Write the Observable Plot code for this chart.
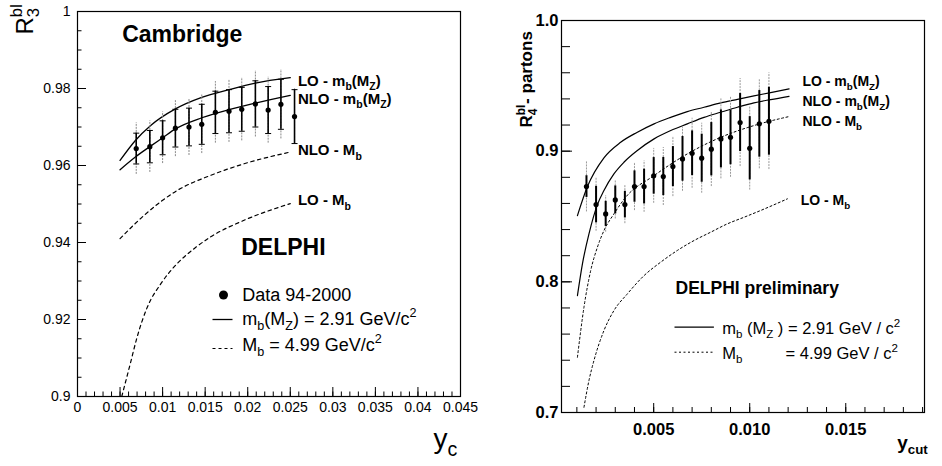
<!DOCTYPE html>
<html><head><meta charset="utf-8">
<script src="https://cdn.jsdelivr.net/npm/d3@7"></script>
<script src="https://cdn.jsdelivr.net/npm/@observablehq/plot@0.6"></script>
<style>
body{margin:0;background:#fff;}
#wrap{display:flex;width:942px;height:466px;}
#wrap svg{overflow:visible;flex:none;}
</style></head><body><div id="wrap"></div>
<script>
// ================= LEFT PANEL: Cambridge R3 =================
const L_dataX   = [0.0069,0.0085,0.0100,0.0115,0.0131,0.0146,0.0162,0.0178,0.0193,0.0209,0.0224,0.0239,0.0255];
const L_dataY   = [0.9644,0.9649,0.9672,0.9697,0.9700,0.9707,0.9738,0.9741,0.9746,0.9760,0.9744,0.9759,0.9727];
const L_statErr = [0.0040,0.0042,0.0044,0.0049,0.0049,0.0052,0.0055,0.0056,0.0057,0.0060,0.0061,0.0065,0.0070];
const L_totErr  = [0.0067,0.0067,0.0067,0.0074,0.0074,0.0076,0.0080,0.0081,0.0082,0.0086,0.0086,0.0090,0.0072];

const L_LOmz_x  = [0.0050,0.0068,0.0086,0.0115,0.0146,0.0178,0.0209,0.0250];
const L_LOmz_y  = [0.9613,0.9665,0.9704,0.9747,0.9777,0.9797,0.9814,0.9828];
const L_NLOmz_x = [0.0050,0.0068,0.0085,0.0100,0.0115,0.0146,0.0178,0.0209,0.0250];
const L_NLOmz_y = [0.9589,0.9622,0.9649,0.9672,0.9695,0.9724,0.9745,0.9762,0.9782];
const L_NLOMb_x = [0.0050,0.0078,0.0117,0.0156,0.0195,0.0250];
const L_NLOMb_y = [0.9410,0.9470,0.9535,0.9574,0.9604,0.9635];
const L_LOMb_x  = [0.0052,0.0062,0.0070,0.0082,0.0098,0.0117,0.0137,0.0156,0.0195,0.0250];
const L_LOMb_y  = [0.9000,0.9085,0.9154,0.9232,0.9293,0.9345,0.9384,0.9414,0.9457,0.9501];

const L_xTicks = [0,0.005,0.01,0.015,0.02,0.025,0.03,0.035,0.04,0.045];
const L_yTicks = [0.9,0.92,0.94,0.96,0.98,1];

// ================= RIGHT PANEL: R4 partons =================
const R_dataX   = [0.0015,0.0020,0.0025,0.0030,0.0035,0.0040,0.0045,0.0050,0.0055,0.0060,0.0065,0.0070,0.0075,0.0080,0.0085,0.0090,0.0095,0.0100,0.0105,0.0110];
const R_dataY   = [0.8729,0.8591,0.8520,0.8627,0.8591,0.8729,0.8729,0.8811,0.8806,0.8882,0.8941,0.8984,0.8946,0.9015,0.9094,0.9106,0.9219,0.9022,0.9209,0.9229];
const R_statErr = [0.0083,0.0140,0.0096,0.0107,0.0102,0.0120,0.0133,0.0140,0.0146,0.0153,0.0171,0.0171,0.0184,0.0204,0.0222,0.0210,0.0222,0.0242,0.0255,0.0260];
const R_totErr  = [0.0194,0.0204,0.0140,0.0146,0.0146,0.0184,0.0197,0.0210,0.0222,0.0230,0.0248,0.0268,0.0268,0.0286,0.0306,0.0306,0.0337,0.0320,0.0344,0.0370];

const R_LOmz_x  = [0.00103,0.00155,0.00241,0.00328,0.00415,0.00502,0.00589,0.00675,0.00762,0.00849,0.00936,0.01022,0.01109,0.01205];
const R_LOmz_y  = [0.8507,0.8729,0.8949,0.9068,0.9145,0.9209,0.9259,0.9303,0.9336,0.9370,0.9397,0.9423,0.9448,0.9477];
const R_NLOmz_x = [0.00103,0.00129,0.00163,0.00207,0.00241,0.00293,0.00345,0.00415,0.00502,0.00589,0.00675,0.00762,0.00849,0.00936,0.01022,0.01109,0.01205];
const R_NLOmz_y = [0.7895,0.8138,0.8367,0.8591,0.8699,0.8826,0.8915,0.9005,0.9094,0.9158,0.9209,0.9259,0.9298,0.9336,0.9370,0.9395,0.9420];
const R_NLOMb_x = [0.00103,0.00137,0.00172,0.00207,0.00241,0.00293,0.00354,0.00502,0.00675,0.00849,0.01022,0.01205];
const R_NLOMb_y = [0.7423,0.7806,0.8086,0.8265,0.8392,0.8520,0.8647,0.8813,0.8979,0.9106,0.9196,0.9265];
const R_LOMb_x  = [0.00137,0.00163,0.00189,0.00241,0.00293,0.00363,0.00450,0.00536,0.00623,0.00710,0.00797,0.00884,0.00970,0.01057,0.01196];
const R_LOMb_y  = [0.7040,0.7245,0.7398,0.7627,0.7780,0.7908,0.8048,0.8150,0.8240,0.8316,0.8380,0.8444,0.8494,0.8546,0.8635];

const R_xTicks = [0.005,0.010,0.015];
const R_yTicks = [0.7,0.8,0.9,1.0];

// ---------------- helpers ----------------
const FONT = "'Liberation Sans', Arial, Helvetica, sans-serif";
const hline = {draw(ctx, size) { const w = Math.sqrt(size / Math.PI); ctx.moveTo(-w, 0); ctx.lineTo(w, 0); }};
const pts = (xs, ys) => xs.map((x, i) => ({x, y: ys[i]}));
const last = (xs, ys) => [{x: xs[xs.length - 1], y: ys[ys.length - 1]}];
const minor = (a, b, s) => d3.range(Math.round(a / s), Math.round(b / s) + 1).map(k => +(k * s).toFixed(6));
const trim = d => String(+d.toFixed(4));

// ---------------- left plot ----------------
const LW = 470, LH = 466, Lm = {l: 77, r: 10, t: 11, b: 70};
const LFW = LW - Lm.l - Lm.r, LFH = LH - Lm.t - Lm.b;
const Ldata = L_dataX.map((x, i) => ({x, y: L_dataY[i], s: L_statErr[i], t: L_totErr[i]}));
const Llab = (xs, ys, text, dy) => Plot.text(last(xs, ys), {x: "x", y: "y", text: () => text, dx: 7.6, dy, textAnchor: "start", lineAnchor: "middle", fontSize: 15, fontWeight: "bold"});
const Lnote = (text, dx, dy, o = {}) => Plot.text([text], {text: d => d, frameAnchor: "top-left", dx, dy, textAnchor: "start", lineAnchor: "bottom", ...o});

const left = Plot.plot({
  width: LW, height: LH,
  marginLeft: Lm.l, marginRight: Lm.r, marginTop: Lm.t, marginBottom: Lm.b,
  style: {fontFamily: FONT, background: "transparent", overflow: "visible"},
  x: {domain: [0, 0.045], axis: null},
  y: {domain: [0.9, 1], axis: null},
  marks: [
    Plot.tickX(minor(0, 0.045, 0.001), {x: d => d, insetTop: LFH - 4.5, stroke: "#000"}),
    Plot.tickX(L_xTicks, {x: d => d, insetTop: LFH - 9, stroke: "#000"}),
    Plot.tickY(minor(0.9, 1, 0.005), {y: d => d, insetRight: LFW - 4.5, stroke: "#000"}),
    Plot.tickY(L_yTicks, {y: d => d, insetRight: LFW - 9, stroke: "#000"}),
    Plot.frame({stroke: "#000", strokeWidth: 1.2}),
    Plot.axisX(L_xTicks, {tickSize: 0, tickPadding: 6, fontSize: 14, tickFormat: trim, label: null}),
    Plot.axisY(L_yTicks, {tickSize: 0, tickPadding: 7, fontSize: 14, tickFormat: trim, label: null}),
    // curves
    Plot.line(pts(L_LOmz_x, L_LOmz_y), {x: "x", y: "y", curve: "monotone-x", stroke: "#000", strokeWidth: 1.3}),
    Plot.line(pts(L_NLOmz_x, L_NLOmz_y), {x: "x", y: "y", curve: "monotone-x", stroke: "#000", strokeWidth: 1.3}),
    Plot.line(pts(L_NLOMb_x, L_NLOMb_y), {x: "x", y: "y", curve: "monotone-x", stroke: "#000", strokeWidth: 1.2, strokeDasharray: "3.5,3.5"}),
    Plot.line(pts(L_LOMb_x, L_LOMb_y), {x: "x", y: "y", curve: "monotone-x", stroke: "#000", strokeWidth: 1.2, strokeDasharray: "3.5,3.5"}),
    // data with error bars
    Plot.ruleX(Ldata, {x: "x", y1: d => d.y - d.t, y2: d => d.y + d.t, stroke: "#888", strokeWidth: 1, strokeDasharray: "2,1"}),
    Plot.ruleX(Ldata, {x: "x", y1: d => d.y - d.s, y2: d => d.y + d.s, stroke: "#000", strokeWidth: 1.6}),
    Plot.dot(Ldata, {x: "x", y: d => d.y + d.s, symbol: hline, r: 3, stroke: "#000", fill: "none", strokeWidth: 1}),
    Plot.dot(Ldata, {x: "x", y: d => d.y - d.s, symbol: hline, r: 3, stroke: "#000", fill: "none", strokeWidth: 1}),
    Plot.dot(Ldata, {x: "x", y: "y", r: 2.6, fill: "#000"}),
    // curve labels
    Llab(L_LOmz_x, L_LOmz_y, "LO - m_{b}(M_{Z})", 3),
    Llab(L_NLOmz_x, L_NLOmz_y, "NLO - m_{b}(M_{Z})", 4),
    Llab(L_NLOMb_x, L_NLOMb_y, "NLO - M_{b}", -1.5),
    Llab(L_LOMb_x, L_LOMb_y, "LO - M_{b}", -3),
    // titles
    Lnote("Cambridge", 44.7, 30, {fontSize: 23, fontWeight: "bold"}),
    Lnote("DELPHI", 163.7, 243, {fontSize: 23, fontWeight: "bold"}),
    // legend
    Plot.dot([0], {frameAnchor: "top-left", dx: 146, dy: 283.5, r: 4.5, fill: "#000"}),
    Plot.dot([0], {frameAnchor: "top-left", dx: 145, dy: 308, r: 10, symbol: hline, stroke: "#000", fill: "none", strokeWidth: 1.3}),
    Plot.dot([0], {frameAnchor: "top-left", dx: 145, dy: 337, r: 10, symbol: hline, stroke: "#000", fill: "none", strokeWidth: 1.2, strokeDasharray: "3,3"}),
    Lnote("Data 94-2000", 164.7, 289, {fontSize: 18}),
    Lnote("m_{b}(M_{Z}) = 2.91 GeV/c^{2}", 164.7, 313, {fontSize: 18}),
    Lnote("M_{b} = 4.99 GeV/c^{2}", 164.7, 339, {fontSize: 18}),
    // axis titles
    Lnote("R^{bl}~{3}", -45, 23, {fontSize: 24, rotate: -90}),
    Lnote("y_{c}", 356, 436.6, {fontSize: 28})
  ]
});

// ---------------- right plot ----------------
const RW = 472, RH = 466, Rm = {l: 91, r: 18, t: 20, b: 54};
const RFW = RW - Rm.l - Rm.r, RFH = RH - Rm.t - Rm.b;
const Rdata = R_dataX.map((x, i) => ({x, y: R_dataY[i], s: R_statErr[i], t: R_totErr[i]}));
const Rlab = (xs, ys, text, dy) => Plot.text(last(xs, ys), {x: "x", y: "y", text: () => text, dx: 13.3, dy, textAnchor: "start", lineAnchor: "middle", fontSize: 14, fontWeight: "bold"});

const right = Plot.plot({
  width: RW, height: RH,
  marginLeft: Rm.l, marginRight: Rm.r, marginTop: Rm.t, marginBottom: Rm.b,
  style: {fontFamily: FONT, background: "transparent", overflow: "visible"},
  x: {domain: [0.0002, 0.0191], axis: null},
  y: {domain: [0.7, 1.0], axis: null},
  marks: [
    Plot.tickX(minor(0.001, 0.019, 0.001), {x: d => d, insetTop: RFH - 5, stroke: "#000"}),
    Plot.tickX(R_xTicks, {x: d => d, insetTop: RFH - 9, stroke: "#000"}),
    Plot.tickY(minor(0.7, 1.0, 0.02), {y: d => d, insetRight: RFW - 9, stroke: "#000"}),
    Plot.tickY(R_yTicks, {y: d => d, insetRight: RFW - 11, stroke: "#000"}),
    Plot.frame({stroke: "#000", strokeWidth: 1.2}),
    Plot.axisX(R_xTicks, {tickSize: 0, tickPadding: 11, fontSize: 16.5, fontWeight: "bold", tickFormat: d3.format(".3f"), label: null}),
    Plot.axisY(R_yTicks, {tickSize: 0, tickPadding: 3, fontSize: 16.5, fontWeight: "bold", tickFormat: d3.format(".1f"), label: null}),
    // curves
    Plot.line(pts(R_LOmz_x, R_LOmz_y), {x: "x", y: "y", curve: "monotone-x", stroke: "#000", strokeWidth: 1.2}),
    Plot.line(pts(R_NLOmz_x, R_NLOmz_y), {x: "x", y: "y", curve: "monotone-x", stroke: "#000", strokeWidth: 1.2}),
    Plot.line(pts(R_NLOMb_x, R_NLOMb_y), {x: "x", y: "y", curve: "monotone-x", stroke: "#000", strokeWidth: 1, strokeDasharray: "2,2.5"}),
    Plot.line(pts(R_LOMb_x, R_LOMb_y), {x: "x", y: "y", curve: "monotone-x", stroke: "#000", strokeWidth: 1, strokeDasharray: "2,2.5"}),
    // data
    Plot.ruleX(Rdata, {x: "x", y1: d => d.y - d.t, y2: d => d.y + d.t, stroke: "#999", strokeWidth: 1, strokeDasharray: "2,1"}),
    Plot.ruleX(Rdata, {x: "x", y1: d => d.y - d.s, y2: d => d.y + d.s, stroke: "#000", strokeWidth: 2}),
    Plot.dot(Rdata, {x: "x", y: "y", r: 2.6, fill: "#000"}),
    // curve labels
    Rlab(R_LOmz_x, R_LOmz_y, "LO - m_{b}(M_{Z})", -7),
    Rlab(R_NLOmz_x, R_NLOmz_y, "NLO - m_{b}(M_{Z})", 5),
    Rlab(R_NLOMb_x, R_NLOMb_y, "NLO - M_{b}", 5),
    Rlab(R_LOMb_x, R_LOMb_y, "LO - M_{b}", 2),
    // title & legend
    Lnote("DELPHI preliminary", 114, 273.3, {fontSize: 17.5, fontWeight: "bold"}),
    Plot.dot([0], {frameAnchor: "top-left", dx: 132.7, dy: 306.7, r: 19.7, symbol: hline, stroke: "#000", fill: "none", strokeWidth: 1.2}),
    Plot.dot([0], {frameAnchor: "top-left", dx: 132.7, dy: 331.7, r: 19.7, symbol: hline, stroke: "#000", fill: "none", strokeWidth: 1, strokeDasharray: "2,2.5"}),
    Lnote("m_{b} (M_{Z} ) = 2.91 GeV / c^{2}", 160.7, 313, {fontSize: 16.5}),
    Lnote("M_{b}", 160.7, 338, {fontSize: 16.5}),
    Lnote("= 4.99 GeV / c^{2}", 224, 338, {fontSize: 16.5}),
    // axis titles
    Lnote("R^{bl}~{4} - partons", -29.3, 107, {fontSize: 17, fontWeight: "bold", rotate: -90}),
    Lnote("y_{cut}", 335.7, 428, {fontSize: 19, fontWeight: "bold"})
  ]
});

const wrap = document.getElementById("wrap");
wrap.append(left, right);

// rich text: _{sub}, ^{sup}, ~{sub stacked under previous sup}
function richify(svg) {
  const NS = "http://www.w3.org/2000/svg";
  svg.querySelectorAll("text").forEach(t => {
    const s = t.textContent;
    if (!/[_^~]\{/.test(s)) return;
    const fs = parseFloat(getComputedStyle(t).fontSize);
    t.textContent = "";
    const re = /([_^~])\{([^}]*)\}/g;
    let lastI = 0, m, cur = 0, prevW = 0;
    const add = (txt, target, small, dx) => {
      const ts = document.createElementNS(NS, "tspan");
      if (target - cur) ts.setAttribute("dy", (target - cur).toFixed(2));
      cur = target;
      if (small) ts.setAttribute("font-size", (fs * 0.7).toFixed(2));
      if (dx) ts.setAttribute("dx", dx.toFixed(2));
      ts.textContent = txt;
      t.appendChild(ts);
      return ts;
    };
    while ((m = re.exec(s))) {
      if (m.index > lastI) add(s.slice(lastI, m.index), 0, false);
      if (m[1] === "^") { const ts = add(m[2], -0.42 * fs, true); prevW = ts.getComputedTextLength(); }
      else if (m[1] === "_") add(m[2], 0.28 * fs, true);
      else add(m[2], 0.28 * fs, true, -prevW);
      lastI = re.lastIndex;
    }
    if (lastI < s.length) add(s.slice(lastI), 0, false);
  });
}
richify(left);
richify(right);
</script>
</body></html>
